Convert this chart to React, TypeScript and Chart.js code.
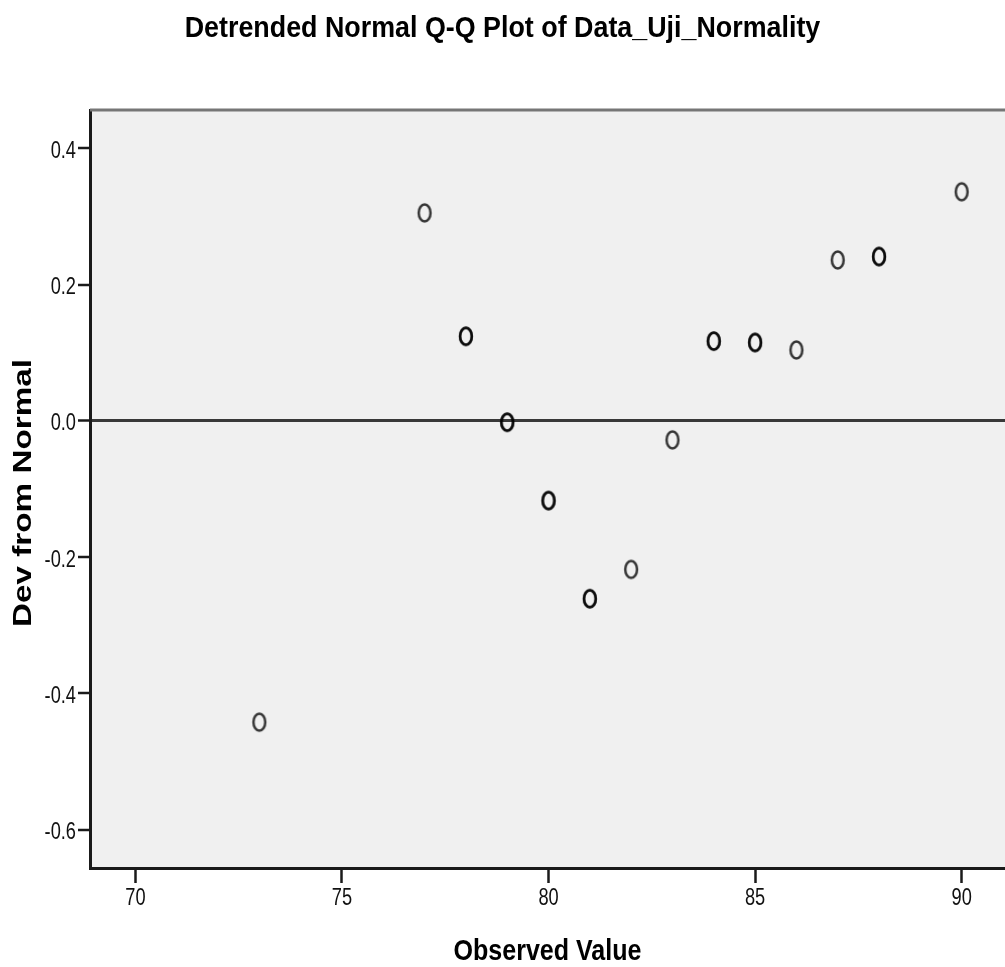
import React, { useEffect, useRef } from "react";
import { Chart, registerables } from "chart.js";

Chart.register(...registerables);

const chartTitle = "Detrended Normal Q-Q Plot of Data_Uji_Normality";
const xAxisTitle = "Observed Value";
const yAxisTitle = "Dev from Normal";

const observedValues = [73, 77, 78, 79, 80, 81, 82, 83, 84, 85, 86, 87, 88, 90];
const devFromNormal = [-0.442, 0.305, 0.124, -0.002, -0.117, -0.261, -0.218, -0.028, 0.117, 0.115, 0.104, 0.236, 0.241, 0.336];
const tieCounts = [1, 1, 2, 2, 2, 2, 1, 1, 2, 2, 1, 1, 2, 1];

const xTicks = [70, 75, 80, 85, 90];
const yTicks = [-0.6, -0.4, -0.2, 0.0, 0.2, 0.4];

const SANS = "'Liberation Sans', Arial, sans-serif";

// horizontal condensing factors to imitate the narrow fonts of the original
const TICK_CONDENSE = 0.76;
const textCondense: Record<string, number> = {
  [chartTitle]: 0.895,
  [xAxisTitle]: 0.835,
  [yAxisTitle]: 1,
};

function makeMarker(): HTMLCanvasElement {
  const c = document.createElement("canvas");
  c.width = 20;
  c.height = 26;
  const g = c.getContext("2d")!;
  g.strokeStyle = "rgba(0,0,0,0.78)";
  g.lineWidth = 2.5;
  g.beginPath();
  g.ellipse(10, 13, 5.9, 8.4, 0, 0, Math.PI * 2);
  g.stroke();
  return c;
}

const condensePlugin = {
  id: "condense",
  beforeDraw(chart: any) {
    const ctx: any = chart.ctx;
    if (ctx.__condensed) return;
    const orig = ctx.fillText;
    ctx.fillText = function (text: string, x: number, y: number, maxWidth?: number) {
      const f = textCondense[text] ?? TICK_CONDENSE;
      const w = this.measureText(text).width * f;
      const mw = maxWidth === undefined ? w : Math.min(maxWidth, w);
      return orig.call(this, text, x, y, mw);
    };
    ctx.__condensed = true;
  },
};

const plotBackground = {
  id: "plotBackground",
  beforeDraw(chart: any) {
    const { ctx, chartArea } = chart;
    ctx.save();
    ctx.fillStyle = "#f0f0f0";
    ctx.fillRect(chartArea.left, chartArea.top, chartArea.right - chartArea.left, chartArea.bottom - chartArea.top);
    ctx.restore();
  },
  afterDraw(chart: any) {
    const { ctx, chartArea } = chart;
    ctx.save();
    ctx.strokeStyle = "#767676";
    ctx.lineWidth = 3;
    ctx.beginPath();
    ctx.moveTo(chartArea.left, chartArea.top);
    ctx.lineTo(chartArea.right, chartArea.top);
    ctx.stroke();
    // y-axis title (stretched along its length like the reference)
    ctx.translate(24, 493);
    ctx.rotate(-Math.PI / 2);
    ctx.scale(1.33, 1);
    ctx.font = "bold 25px " + SANS;
    ctx.fillStyle = "#000";
    ctx.textAlign = "center";
    ctx.textBaseline = "middle";
    ctx.fillText(yAxisTitle, 0, 0);
    ctx.restore();
  },
};

export default function App() {
  const ref = useRef<HTMLCanvasElement | null>(null);

  useEffect(() => {
    if (!ref.current) return;
    const marker = makeMarker();
    const points: { x: number; y: number }[] = [];
    observedValues.forEach((x, i) => {
      for (let k = 0; k < tieCounts[i]; k++) points.push({ x, y: devFromNormal[i] });
    });

    const chart = new Chart(ref.current, {
      type: "scatter",
      data: {
        datasets: [
          {
            data: points,
            pointStyle: marker as any,
            pointRadius: 8,
            pointHoverRadius: 8,
          },
        ],
      },
      options: {
        animation: false,
        responsive: false,
        devicePixelRatio: 1,
        layout: { padding: 0, autoPadding: false } as any,
        plugins: {
          legend: { display: false },
          tooltip: { enabled: false },
          title: {
            display: true,
            text: chartTitle,
            color: "#000",
            font: { family: SANS, size: 30, weight: "bold", lineHeight: 1.2 },
            padding: { top: 11, bottom: 63 },
          },
        },
        scales: {
          x: {
            type: "linear",
            min: 68.9,
            max: 91.05,
            afterFit(scale: any) {
              scale.height = 99;
            },
            afterBuildTicks(scale: any) {
              scale.ticks = xTicks.map((v) => ({ value: v }));
            },
            ticks: {
              color: "#111",
              font: { family: SANS, size: 24 },
              padding: 1,
              maxRotation: 0,
              callback: (v: any) => String(v),
            },
            grid: {
              drawOnChartArea: false,
              color: "rgba(0,0,0,0)",
              tickColor: "#1a1a1a",
              tickLength: 15,
              tickWidth: 2.5,
            },
            border: { display: true, color: "#1a1a1a", width: 3 },
            title: {
              display: true,
              text: xAxisTitle,
              color: "#000",
              font: { family: SANS, size: 30, weight: "bold", lineHeight: 1.0 },
              padding: { top: 0, bottom: 0 },
            },
          },
          y: {
            type: "linear",
            min: -0.656,
            max: 0.456,
            afterFit(scale: any) {
              scale.width = 90;
            },
            afterBuildTicks(scale: any) {
              scale.ticks = yTicks.map((v) => ({ value: v }));
            },
            ticks: {
              color: "#111",
              font: { family: SANS, size: 24 },
              padding: 2,
              labelOffset: 3,
              callback: (v: any) => Number(v).toFixed(1),
            },
            grid: {
              color: (ctx: any) => (ctx.tick && Math.abs(ctx.tick.value) < 1e-9 ? "#383838" : "rgba(0,0,0,0)"),
              lineWidth: (ctx: any) => (ctx.tick && Math.abs(ctx.tick.value) < 1e-9 ? 3 : 0),
              tickColor: "#1a1a1a",
              tickLength: 12,
              tickWidth: 2.5,
            },
            border: { display: true, color: "#1a1a1a", width: 3 },
          },
        },
      },
      plugins: [condensePlugin, plotBackground],
    });

    return () => chart.destroy();
  }, []);

  return (
    <div style={{ position: "absolute", left: 0, top: 0, width: 1005, height: 967, background: "#fff" }}>
      <canvas ref={ref} width={1005} height={967} style={{ display: "block", width: 1005, height: 967 }} />
    </div>
  );
}
